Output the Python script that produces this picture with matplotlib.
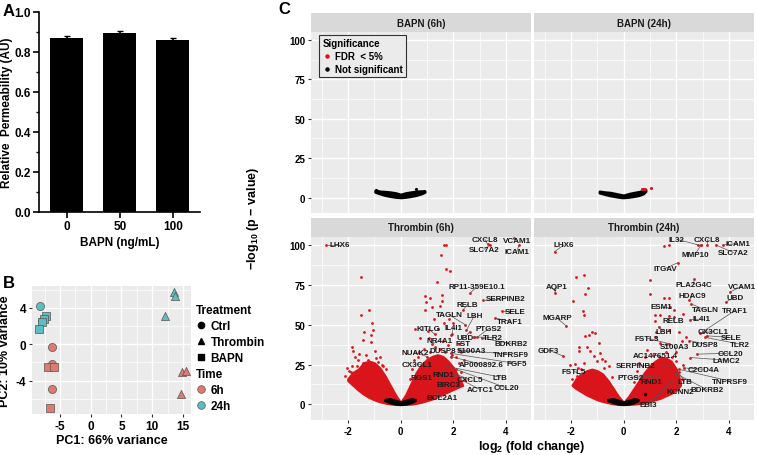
import numpy as np
import matplotlib
matplotlib.use("Agg")
import matplotlib.pyplot as plt
from matplotlib.lines import Line2D

plt.rcParams["font.family"] = ["Liberation Sans", "DejaVu Sans"]
plt.rcParams["font.weight"] = "bold"
plt.rcParams["axes.labelweight"] = "bold"
plt.rcParams["axes.unicode_minus"] = False
plt.rcParams["mathtext.fontset"] = "custom"
plt.rcParams["mathtext.rm"] = "Liberation Sans:bold"
plt.rcParams["mathtext.bf"] = "Liberation Sans:bold"
plt.rcParams["mathtext.it"] = "Liberation Sans:bold"

# ---- panel A data
bapn_dose = ["0", "50", "100"]
permeability = [0.87, 0.895, 0.86]
perm_err = [0.008, 0.010, 0.008]

# ---- panel B data (PCA)
pc1 = [-8.2, -8.0, -7.3, -7.6, -7.9, -8.4, 13.6, 13.7, 12.1,
       -6.3, -6.3, -6.3, -6.9, -6.0, -6.6, 14.8, 15.5, 14.6]
pc2 = [4.2, 2.5, 3.1, 2.8, 2.4, 1.7, 5.7, 5.3, 3.1,
       -0.3, -2.2, -4.9, -2.5, -2.5, -7.0, -3.0, -2.9, -5.5]
treatment = ["Ctrl", "Ctrl", "BAPN", "BAPN", "BAPN", "BAPN", "Thrombin", "Thrombin", "Thrombin",
             "Ctrl", "Ctrl", "Ctrl", "BAPN", "BAPN", "BAPN", "Thrombin", "Thrombin", "Thrombin"]
timepoint = ["24h"] * 9 + ["6h"] * 9

# ---- panel C data (volcano)
# dense non-significant cores (x, upper, lower)
bapn6_core_x = [-0.97, -0.8, -0.6, -0.4, -0.2, 0.0, 0.2, 0.4, 0.6, 0.8, 0.92]
bapn6_core_hi = [4.5, 4.0, 3.8, 3.5, 3.0, 2.0, 3.0, 3.5, 4.0, 4.2, 4.0]
bapn6_core_lo = [3.5, 2.5, 1.5, 0.8, 0.3, 0.0, 0.3, 0.8, 1.5, 2.5, 3.5]
bapn6_ns_x = [0.58, -0.95, 0.88, -0.85]
bapn6_ns_y = [5.7, 4.8, 4.3, 4.4]

bapn24_core_x = [-0.92, -0.7, -0.5, -0.3, -0.1, 0.0, 0.2, 0.4, 0.6, 0.75, 0.84]
bapn24_core_hi = [4.0, 3.5, 3.2, 2.5, 1.8, 1.5, 2.5, 3.2, 3.8, 4.5, 5.0]
bapn24_core_lo = [3.0, 2.0, 1.2, 0.6, 0.1, 0.0, 0.3, 0.8, 1.5, 2.5, 4.0]
bapn24_sig_x = [0.69, 0.75, 0.82, 1.03]
bapn24_sig_y = [5.7, 5.5, 5.2, 6.3]

thr_core_x = [-0.6, -0.4, -0.2, 0.0, 0.2, 0.4, 0.55]
thr_core_hi = [3.0, 3.5, 2.5, 1.5, 2.5, 3.5, 3.0]
thr_core_lo = [2.5, 1.2, 0.3, 0.0, 0.3, 1.2, 2.5]

th6_left_x = [-2.0, -1.8, -1.6, -1.4, -1.2, -1.0, -0.8, -0.6, -0.4, -0.2, 0.0]
th6_left_hi = [16, 20, 22, 26, 27, 26, 23, 18, 12, 6, 1]
th6_left_lo = [15, 12, 9, 6.5, 4.5, 3, 1.8, 1, 0.4, 0.1, 0]
th6_right_x = [0.0, 0.2, 0.4, 0.6, 0.8, 1.0, 1.2, 1.4, 1.6, 1.8, 2.0, 2.2, 2.35]
th6_right_hi = [1, 6, 13, 20, 25, 28, 30, 31, 30, 27, 23, 17, 12]
th6_right_lo = [0, 0.1, 0.3, 0.8, 1.5, 2.5, 3.5, 5, 6.5, 8, 9.5, 11, 12]

th24_left_x = [-1.95, -1.8, -1.6, -1.4, -1.2, -1.0, -0.8, -0.6, -0.4, -0.2, 0.0]
th24_left_hi = [12, 16, 19, 21, 22, 21, 19, 15, 10, 5, 1]
th24_left_lo = [12, 10, 8, 6, 4.5, 3, 2, 1.2, 0.5, 0.1, 0]
th24_right_x = [0.0, 0.2, 0.4, 0.6, 0.8, 1.0, 1.2, 1.4, 1.6, 1.8, 2.0, 2.15]
th24_right_hi = [1, 5, 10, 15, 20, 24, 27, 29, 29, 27, 22, 14]
th24_right_lo = [0, 0.1, 0.3, 0.7, 1.3, 2, 3, 4, 5.5, 7, 9, 12]

# scattered significant genes
th6_sig_x = [-1.51, -1.51, -1.19, -1.08, -1.39, -1.05, -1.13, -1.42, -1.14, -1.84, -1.81, -2.03,
             -1.74, -1.57, -0.98, -0.79, -1.86, -1.67, -1.9, -1.55, -1.76, -1.42, -1.22, -0.66,
             -0.85, -0.55, -1.35, -1.11, -2.1, -1.95, -1.6, -1.3, -0.95, -0.7,
             1.65, 1.72, 1.53, 1.71, 1.87, 1.39, 0.92, 0.98, 1.13, 1.58, 1.56, 1.49, 1.21, 0.92,
             1.27, 1.84, 2.0, 1.65, 0.55, 1.03, 1.41, 0.74, 1.06, 1.91, 2.79, 1.3, 1.5, 1.8, 0.9,
             1.1, 2.1, 1.6, 0.7, 0.5, 2.4, 2.2, 0.45, 0.65, 2.3, 2.45, 1.95, 0.35]
th6_sig_y = [80, 56.3, 59.3, 51.1, 45.6, 46.6, 43.7, 40.3, 39, 35.7, 33.6, 23,
             29.7, 31.8, 33.5, 29.7, 24, 24, 20, 15.6, 16.5, 26, 27.6, 24,
             26.5, 22, 21, 23, 18, 21, 28, 31, 29, 25,
             100, 100, 93.7, 84.8, 83.8, 77, 68, 64, 67, 68.8, 64.6, 62, 61, 59,
             53.4, 53.8, 51.3, 50.9, 47, 46.2, 47, 41.7, 41.7, 43.8, 42.3, 36, 35, 37, 35,
             33, 30, 40, 33, 28, 28, 26, 22, 30, 20, 15, 31, 16]

th24_sig_x = [-1.81, -1.52, -1.35, -1.45, -1.92, -1.54, -1.52, -1.48, -1.33, -1.2, -1.1, -0.94,
              -1.7, -1.7, -1.39, -1.26, -0.88, -1.14, -1.83, -2.05, -1.74, -1.52, -0.82, -0.69,
              -1.77, -1.79, -1.39, -0.56, -1.95, -1.6, -1.0, -0.75, -0.45,
              1.55, 1.73, 2.94, 1.01, 1.01, 1.52, 1.71, 1.9, 1.2, 1.37, 1.74, 2.27, 1.18, 1.23,
              1.2, 1.74, 2.12, 2.37, 1.4, 1.6, 2.2, 1.99, 1.93, 2.0, 0.9, 1.1, 1.6, 1.3, 0.8, 0.6,
              0.5, 2.2, 2.25, 1.85, 0.4]
th24_sig_y = [79.6, 81.3, 73.2, 69.4, 64.8, 58.5, 56.3, 43, 43.5, 45.6, 44.5, 38.6,
              35.7, 33.2, 35.7, 33.6, 32.5, 30.4, 25.1, 24.7, 23, 26.2, 28.3, 27.2,
              17.7, 14.6, 18.8, 24, 16, 22, 27, 23, 17,
              99.4, 100, 100, 78.3, 69.4, 66.9, 66.9, 59.3, 56.3, 56.3, 55.7, 56.8, 52.5, 45.4,
              42.3, 46.5, 45.4, 42.3, 38.6, 37.6, 39.6, 27, 23.5, 20, 34, 31, 33, 28, 30, 26,
              21, 16, 25, 30, 14]
th24_ns_x = [0.8]
th24_ns_y = [6.3]

# labelled genes: name, log2FC, -log10 p
th6_genes = ["LHX6", "CXCL8", "VCAM1", "SLC7A2", "ICAM1", "RP11-359E10.1", "SERPINB2", "RELB",
             "SELE", "TRAF1", "TAGLN", "LBH", "IL4I1", "KITLG", "PTGS2", "UBD", "TLR2", "NR4A1",
             "FST", "BDKRB2", "DUSP8", "S100A3", "TNFRSF9", "NUAK2", "AP000892.6", "FGF5",
             "CX3CL1", "LTB", "RND1", "RGS1", "CXCL5", "CCL20", "BIRC3", "ACTC1", "BCL2A1"]
th6_gene_x = [-2.84, 3.3, 4.3, 3.4, 4.5, 2.64, 3.14, 2.38, 3.84, 3.59, 2.45, 2.5, 1.95, 1.3,
              2.9, 2.63, 2.79, 1.2, 2.2, 3.08, 1.7, 2.3, 2.2, 1.0, 1.9, 1.9, 0.9, 1.7, 1.6, 0.95,
              1.9, 2.1, 1.5, 2.0, 1.3]
th6_gene_y = [100, 100.5, 104.5, 100, 100, 69.9, 65.2, 59.5, 58.5, 54.2, 50, 46.5, 44, 44,
              42, 45.7, 42.3, 38, 38, 41.6, 33, 33, 34, 30, 30, 32, 25, 24, 20, 17, 20, 22, 14,
              18, 8]

th24_genes = ["LHX6", "AQP1", "MGARP", "GDF3", "FSTL5", "IL32", "CXCL8", "SLC7A2", "ICAM1",
              "MMP10", "ITGAV", "PLA2G4C", "VCAM1", "HDAC9", "UBD", "ESM1", "TAGLN", "TRAF1",
              "RELB", "IL4I1", "LBH", "CX3CL1", "FSTL3", "SELE", "DUSP8", "TLR2", "S100A3",
              "CCL20", "AC147651.4", "LAMC2", "SERPINB2", "C2CD4A", "PTGS2", "RND1", "LTB",
              "TNFRSF9", "BDKRB2", "KCNN2", "EBI3"]
th24_gene_x = [-2.62, -2.61, -2.19, -2.31, -1.55, 2.84, 3.16, 3.5, 3.79, 2.94, 2.06, 2.69,
               4.04, 2.49, 3.88, 1.77, 2.56, 3.0, 1.93, 2.52, 1.33, 2.9, 1.74, 3.16, 2.5, 3.1,
               2.0, 2.78, 1.4, 2.53, 1.8, 2.28, 1.4, 1.5, 2.09, 2.1, 2.05, 1.98, 1.9]
th24_gene_y = [95.8, 69.9, 49.4, 30.4, 18, 100, 100, 100, 100, 100, 88.9, 78.9, 70.5, 65.2,
               64.2, 61.4, 63.1, 45.5, 55, 53, 48.7, 44.9, 38, 43, 40, 42, 33, 31.5, 30, 29.4,
               24, 22.9, 18, 17, 20, 22, 18.7, 21.5, 16]

# label placement (layout only)
th6_label_pos = [(-2.3, 100), (3.2, 103.5), (4.4, 103), (3.18, 97.3), (4.41, 96), (2.89, 73.7),
                 (4.0, 66.3), (2.55, 62.7), (4.35, 58.5), (4.16, 52.1), (1.85, 56.1), (2.8, 55.7),
                 (2.0, 48.4), (1.05, 47.3), (3.33, 47.3), (2.44, 42), (3.5, 42), (1.49, 39.9),
                 (2.38, 38.2), (4.18, 38.2), (1.62, 33.5), (2.7, 33.5), (4.18, 31.5), (0.54, 32.5),
                 (3.08, 25.1), (4.41, 25.6), (0.61, 25.3), (3.78, 17.1), (1.62, 18.8), (0.8, 16.9),
                 (2.63, 15.6), (4.0, 10.4), (1.81, 12.5), (3.02, 9.3), (1.56, 4.4)]
th24_label_pos = [(-2.27, 100), (-2.55, 73.7), (-2.53, 54.2), (-2.84, 34), (-1.89, 20.9),
                  (2.02, 103.6), (3.16, 103.6), (4.17, 95.2), (4.33, 101), (2.72, 94.3),
                  (1.58, 85.3), (2.65, 75.3), (4.48, 74), (2.61, 68), (4.23, 67.3), (1.43, 61.4),
                  (3.09, 59.3), (4.23, 58.9), (1.89, 52.5), (2.97, 53.6), (1.52, 45.8),
                  (3.41, 45.6), (0.88, 41.6), (4.08, 42), (3.09, 37.8), (4.42, 37.8), (1.95, 36.2),
                  (4.04, 32.1), (1.2, 30.8), (3.91, 27.7), (0.44, 24.7), (3.03, 22), (0.25, 16.9),
                  (1.05, 14.6), (2.31, 14.6), (4.04, 14.6), (3.16, 9.3), (2.15, 7.8), (0.95, -0.2)]

W, H = 757, 456
RED = "#D9141A"
COL_TIME = {"6h": "#DF7A70", "24h": "#5DBDC1"}
MARK = {"Ctrl": "o", "Thrombin": "^", "BAPN": "s"}
GREY = "#EBEBEB"

fig = plt.figure(figsize=(W / 100, H / 100), dpi=100)


def box(l, t, r, b):
    return [l / W, 1 - b / H, (r - l) / W, (b - t) / H]


def bold_ticks(ax):
    for lbl in ax.get_xticklabels() + ax.get_yticklabels():
        lbl.set_fontweight("bold")


def gg_panel(ax):
    ax.set_facecolor(GREY)
    ax.grid(which="major", color="white", lw=1.0)
    ax.grid(which="minor", color="white", lw=0.5)
    ax.set_axisbelow(True)
    for s in ax.spines.values():
        s.set_visible(False)
    ax.tick_params(which="minor", length=0)


# ================= A =================
axa = fig.add_axes(box(39, 13, 200, 213))
xa = np.arange(len(bapn_dose))
axa.bar(xa, permeability, width=0.62, color="black")
axa.errorbar(xa, permeability, yerr=perm_err, fmt="none", ecolor="black", capsize=2, elinewidth=1.2)
axa.set_xlim(-0.52, 2.51)
axa.set_ylim(0, 1.0)
axa.set_xticks(xa)
axa.set_xticklabels(bapn_dose)
axa.set_yticks(np.arange(0, 1.01, 0.2))
axa.set_yticks(np.arange(0.1, 1.0, 0.2), minor=True)
axa.yaxis.set_major_formatter(matplotlib.ticker.FormatStrFormatter("%.1f"))
for s in ["top", "right"]:
    axa.spines[s].set_visible(False)
for s in ["left", "bottom"]:
    axa.spines[s].set_linewidth(1.2)
axa.tick_params(which="major", length=4, width=1.2, labelsize=8.5, pad=2)
axa.tick_params(which="minor", length=2.5, width=1.0)
axa.set_ylabel("Relative  Permeability (AU)", fontsize=8.5)
axa.yaxis.set_label_coords(-0.16, 0.5)
axa.set_xlabel("BAPN (ng/mL)", fontsize=8.5, labelpad=3)
bold_ticks(axa)
fig.text(3 / W, 1 - 12 / H, "A", fontsize=12, va="center", ha="left", fontweight="bold")

# ================= B =================
axb = fig.add_axes(box(32, 287, 191, 415))
gg_panel(axb)
for x, y, tr, tp in zip(pc1, pc2, treatment, timepoint):
    axb.scatter(x, y, marker=MARK[tr], s=34, color=COL_TIME[tp], edgecolors="#555555",
                linewidths=0.5, zorder=3)
axb.set_xlim(-9.55, 16.3)
axb.set_ylim(-7.67, 6.4)
axb.set_xticks([-5, 0, 5, 10, 15])
axb.set_xticks([-7.5, -2.5, 2.5, 7.5, 12.5], minor=True)
axb.set_yticks([-4, 0, 4])
axb.set_yticks([-6, -2, 2, 6], minor=True)
axb.tick_params(which="major", length=2.5, width=0.8, labelsize=8.5, pad=1.5, color="#333333")
axb.set_xlabel("PC1: 66% variance", fontsize=9, labelpad=2)
axb.set_ylabel("PC2: 10% variance", fontsize=9)
axb.yaxis.set_label_coords(-0.13, 0.5)
bold_ticks(axb)
fig.text(3 / W, 1 - 284 / H, "B", fontsize=12, va="center", ha="left", fontweight="bold")

h_tr = [Line2D([], [], ls="none", marker=MARK[k], color="black", markersize=4.5) for k in MARK]
h_tm = [Line2D([], [], ls="none", marker="o", markerfacecolor=COL_TIME[k],
               markeredgecolor="#555555", markeredgewidth=0.5, markersize=5.5) for k in COL_TIME]
legkw = dict(loc="upper left", frameon=False, handlelength=0.9, handletextpad=0.35,
             labelspacing=0.35, borderaxespad=0.2, borderpad=0.2,
             prop={"size": 8.5, "weight": "bold"},
             title_fontproperties={"size": 8.5, "weight": "bold"})
lg1 = axb.legend(h_tr, list(MARK), title="Treatment", bbox_to_anchor=(1.0, 0.9), **legkw)
lg1._legend_box.align = "left"
axb.add_artist(lg1)
lg2 = axb.legend(h_tm, list(COL_TIME), title="Time", bbox_to_anchor=(1.0, 0.4), **legkw)
lg2._legend_box.align = "left"

# ================= C =================
fig.text(278 / W, 1 - 9 / H, "C", fontsize=12, va="center", ha="left", fontweight="bold")


def facet(l, t, r, b, title, left_lab, bottom_lab):
    st = fig.add_axes(box(l, t, r, t + 19))
    st.set_facecolor("#D9D9D9")
    st.set_xticks([])
    st.set_yticks([])
    for s in st.spines.values():
        s.set_visible(False)
    st.text(0.5, 0.5, title, ha="center", va="center", fontsize=7, color="#1A1A1A",
            fontweight="bold", transform=st.transAxes)
    ax = fig.add_axes(box(l, t + 19, r, b))
    gg_panel(ax)
    ax.set_xlim(-3.4, 4.95)
    ax.set_ylim(-9.8, 105)
    ax.set_xticks([-2, 0, 2, 4])
    ax.set_xticks([-3, -1, 1, 3], minor=True)
    ax.set_yticks([0, 25, 50, 75, 100])
    ax.set_yticks([12.5, 37.5, 62.5, 87.5], minor=True)
    ax.tick_params(which="major", length=2.5, width=0.8, color="#333333", labelsize=7, pad=1.5)
    if not left_lab:
        ax.tick_params(axis="y", left=False, labelleft=False)
    if not bottom_lab:
        ax.tick_params(axis="x", bottom=False, labelbottom=False)
    bold_ticks(ax)
    return ax


def cloud(ax, x, hi, lo, color):
    ax.fill_between(x, lo, hi, color=color, lw=1.8, edgecolor=color, zorder=2)


def genes(ax, names, gx, gy, pos):
    ax.scatter(gx, gy, s=4, color=RED, linewidths=0, zorder=3)
    for n, x, y, (lx, ly) in zip(names, gx, gy, pos):
        ax.plot([x, lx], [y, ly], color="#555555", lw=0.5, zorder=3)
        ax.text(lx, ly, n, fontsize=5.8, ha="center", va="center", color="#1A1A1A",
                fontweight="bold", zorder=4)


ax1 = facet(311, 14, 531, 214, "BAPN (6h)", True, False)
cloud(ax1, bapn6_core_x, bapn6_core_hi, bapn6_core_lo, "black")
ax1.scatter(bapn6_ns_x, bapn6_ns_y, s=5, color="black", linewidths=0, zorder=3)
leg_h = [Line2D([], [], ls="none", marker="o", color=RED, markersize=2.2),
         Line2D([], [], ls="none", marker="o", color="black", markersize=2.2)]
lgc = ax1.legend(leg_h, ["FDR  < 5%", "Not significant"], title="Significance",
                 loc="upper left", bbox_to_anchor=(0.036, 0.985),
                 prop={"size": 7, "weight": "bold"},
                 title_fontproperties={"size": 7, "weight": "bold"},
                 frameon=True, fancybox=False, edgecolor="#333333", facecolor=GREY,
                 framealpha=1, handlelength=1.0, handletextpad=0.3, labelspacing=0.3,
                 borderpad=0.35, borderaxespad=0)
lgc._legend_box.align = "left"
lgc.get_frame().set_linewidth(0.8)

ax2 = facet(534, 14, 754, 214, "BAPN (24h)", False, False)
cloud(ax2, bapn24_core_x, bapn24_core_hi, bapn24_core_lo, "black")
ax2.scatter(bapn24_sig_x, bapn24_sig_y, s=5, color=RED, linewidths=0, zorder=3)

ax3 = facet(311, 219, 531, 421, "Thrombin (6h)", True, True)
cloud(ax3, th6_left_x, th6_left_hi, th6_left_lo, RED)
cloud(ax3, th6_right_x, th6_right_hi, th6_right_lo, RED)
cloud(ax3, thr_core_x, thr_core_hi, thr_core_lo, "black")
ax3.scatter(th6_sig_x, th6_sig_y, s=4, color=RED, linewidths=0, zorder=3)
genes(ax3, th6_genes, th6_gene_x, th6_gene_y, th6_label_pos)

ax4 = facet(534, 219, 754, 421, "Thrombin (24h)", False, True)
cloud(ax4, th24_left_x, th24_left_hi, th24_left_lo, RED)
cloud(ax4, th24_right_x, th24_right_hi, th24_right_lo, RED)
cloud(ax4, thr_core_x, thr_core_hi, thr_core_lo, "black")
ax4.scatter(th24_sig_x, th24_sig_y, s=4, color=RED, linewidths=0, zorder=3)
ax4.scatter(th24_ns_x, th24_ns_y, s=6, color="black", linewidths=0, zorder=3)
genes(ax4, th24_genes, th24_gene_x, th24_gene_y, th24_label_pos)

fig.text(253 / W, 1 - 218 / H, r"$\mathrm{-log_{10}}$ (p $-$ value)", rotation=90,
         fontsize=9, ha="center", va="center", fontweight="bold")
fig.text(532 / W, 1 - 447 / H, r"$\mathrm{log_2}$ (fold change)", fontsize=9,
         ha="center", va="center", fontweight="bold")

fig.savefig("out.png", dpi=100)
